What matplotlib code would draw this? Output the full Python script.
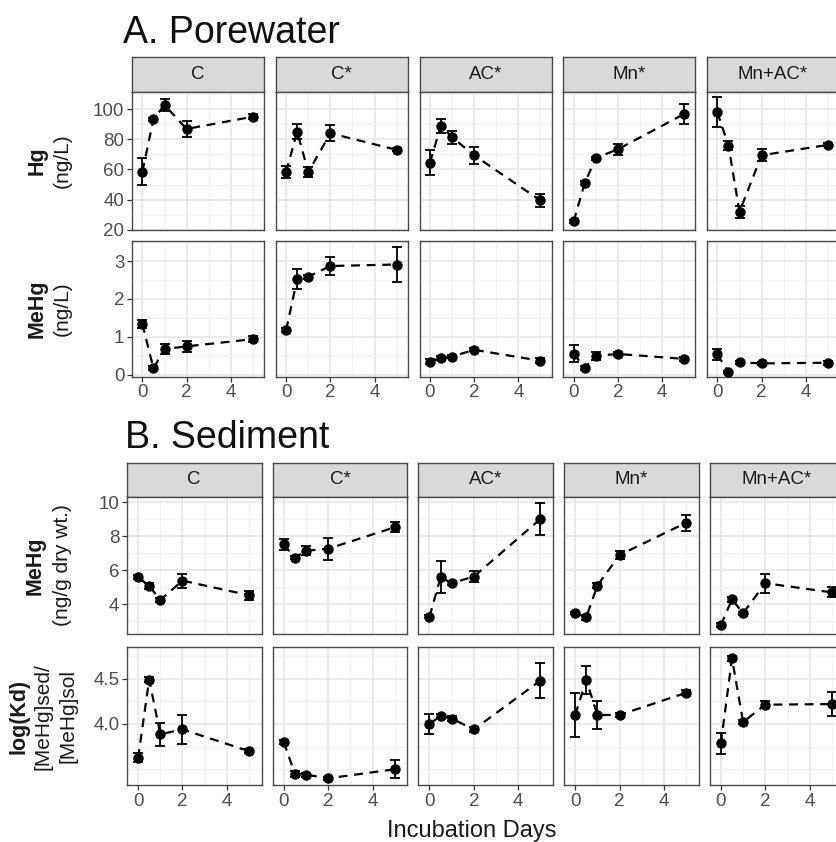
import matplotlib
matplotlib.use("Agg")
import matplotlib.pyplot as plt
from matplotlib.ticker import FixedLocator

plt.rcParams['font.family'] = ['Liberation Sans', 'DejaVu Sans']

# ---------------------------------------------------------------- data
days = [0, 0.5, 1, 2, 5]
treatments = ["C", "C*", "AC*", "Mn*", "Mn+AC*"]

# Porewater total Hg (ng/L), one row per treatment
pw_hg_mean = [
    [58.6, 93.3, 102.8, 86.9, 95.0],
    [58.4, 85.1, 58.2, 84.0, 73.0],
    [64.6, 89.0, 81.4, 69.4, 39.4],
    [25.5, 50.9, 67.5, 73.4, 96.8],
    [97.9, 75.8, 31.9, 69.4, 76.3],
]
pw_hg_err = [
    [9.2, 1.0, 3.7, 5.5, 1.5],
    [4.0, 5.0, 3.5, 5.3, 1.0],
    [8.5, 4.5, 4.4, 5.7, 4.6],
    [1.0, 1.5, 1.0, 3.7, 6.5],
    [9.9, 3.0, 4.0, 4.0, 1.0],
]

# Porewater MeHg (ng/L)
pw_mehg_mean = [
    [1.34, 0.17, 0.68, 0.75, 0.94],
    [1.18, 2.53, 2.59, 2.87, 2.91],
    [0.35, 0.44, 0.48, 0.66, 0.37],
    [0.56, 0.18, 0.50, 0.55, 0.42],
    [0.54, 0.07, 0.33, 0.30, 0.32],
]
pw_mehg_err = [
    [0.10, 0.05, 0.14, 0.15, 0.08],
    [0.06, 0.26, 0.05, 0.25, 0.47],
    [0.06, 0.05, 0.04, 0.04, 0.07],
    [0.23, 0.05, 0.10, 0.05, 0.05],
    [0.15, 0.03, 0.04, 0.04, 0.05],
]

# Sediment MeHg (ng/g dry wt.)
sed_mehg_mean = [
    [5.59, 5.08, 4.25, 5.39, 4.53],
    [7.53, 6.74, 7.15, 7.27, 8.53],
    [3.27, 5.59, 5.24, 5.63, 9.02],
    [3.47, 3.24, 5.10, 6.90, 8.80],
    [2.78, 4.29, 3.47, 5.24, 4.70],
]
sed_mehg_err = [
    [0.12, 0.20, 0.10, 0.42, 0.25],
    [0.33, 0.10, 0.27, 0.65, 0.30],
    [0.10, 0.95, 0.10, 0.33, 0.95],
    [0.05, 0.15, 0.15, 0.25, 0.48],
    [0.10, 0.15, 0.10, 0.55, 0.30],
]

# log(Kd) = log([MeHg]sed / [MeHg]sol)
log_kd_mean = [
    [3.625, 4.49, 3.886, 3.94, 3.70],
    [3.80, 3.45, 3.44, 3.40, 3.50],
    [4.00, 4.09, 4.06, 3.94, 4.48],
    [4.10, 4.486, 4.10, 4.10, 4.345],
    [3.787, 4.725, 4.022, 4.213, 4.22],
]
log_kd_err = [
    [0.05, 0.03, 0.13, 0.16, 0.02],
    [0.02, 0.03, 0.02, 0.02, 0.10],
    [0.115, 0.02, 0.03, 0.03, 0.19],
    [0.24, 0.15, 0.155, 0.02, 0.03],
    [0.117, 0.03, 0.02, 0.04, 0.13],
]

# ---------------------------------------------------------------- layout
W, H = 836, 842
fig = plt.figure(figsize=(W / 100, H / 100), dpi=100)
fig.patch.set_facecolor("white")

BORDER = "#4a4a4a"
GRID_MAJ = "#E6E6E6"
GRID_MIN = "#F0F0F0"
TICK_TXT = "#4D4D4D"


def px_axes(x0, y0, w, h):
    return fig.add_axes([x0 / W, 1 - (y0 + h) / H, w / W, h / H])


def strip(x0, y0, w, h, label):
    ax = px_axes(x0, y0, w, h)
    ax.set_facecolor("#D9D9D9")
    ax.set_xticks([])
    ax.set_yticks([])
    for s in ax.spines.values():
        s.set_color(BORDER)
        s.set_linewidth(1.0)
    ax.text(0.5, 0.5, label, transform=ax.transAxes, ha="center",
            va="center", fontsize=13.5, color="#1A1A1A")


def panel(x0, y0, w, h, mean, err, xlim, ylim, ymaj, ymin,
          show_y, show_x):
    ax = px_axes(x0, y0, w, h)
    ax.set_facecolor("white")
    ax.set_xlim(*xlim)
    ax.set_ylim(*ylim)
    ax.set_xticks([0, 2, 4])
    ax.xaxis.set_minor_locator(FixedLocator([1, 3, 5]))
    ax.set_yticks(ymaj)
    ax.yaxis.set_minor_locator(FixedLocator(ymin))
    ax.set_axisbelow(True)
    ax.grid(which="major", color=GRID_MAJ, lw=1.1)
    ax.grid(which="minor", color=GRID_MIN, lw=0.6)
    ax.tick_params(which="minor", length=0)
    ax.tick_params(which="major", length=3.5, width=0.9, color="#333333",
                   labelcolor=TICK_TXT, labelsize=13.5, pad=2)
    if not show_y:
        ax.tick_params(axis="y", left=False, labelleft=False)
    if not show_x:
        ax.tick_params(axis="x", bottom=False, labelbottom=False)
    for s in ax.spines.values():
        s.set_color(BORDER)
        s.set_linewidth(1.0)

    ax.plot(days, mean, color="black", lw=1.6, dashes=(4, 3), zorder=2)
    ax.errorbar(days, mean, yerr=err, fmt="none", ecolor="black",
                elinewidth=1.3, capsize=3.6, capthick=1.3, zorder=3)
    ax.plot(days, mean, "o", color="black", ms=6.5, zorder=4)
    return ax


def ylabel(lines, xs, yc):
    for i, (txt, x) in enumerate(zip(lines, xs)):
        fig.text(x / W, 1 - yc / H, txt, rotation=90, ha="center",
                 va="center", fontsize=15.5 if i == 0 else 15,
                 fontweight="bold" if i == 0 else "normal",
                 color="#1A1A1A")


# ---- A. Porewater
a_lefts = [132, 275.75, 419.5, 563.25, 707]
a_w = 132
a_xlim = (-0.47, 5.5)
fig.text(123 / W, 1 - 43.3 / H, "A. Porewater", fontsize=27,
         ha="left", va="baseline", color="#111111")
for j, name in enumerate(treatments):
    x0 = a_lefts[j]
    strip(x0, 57, a_w, 34.7, name)
    panel(x0, 91.7, a_w, 138.3, pw_hg_mean[j], pw_hg_err[j], a_xlim,
          (19.8, 111.6), [20, 40, 60, 80, 100], [30, 50, 70, 90, 110],
          show_y=(j == 0), show_x=False)
    panel(x0, 241, a_w, 135.7, pw_mehg_mean[j], pw_mehg_err[j], a_xlim,
          (-0.05, 3.53), [0, 1, 2, 3], [0.5, 1.5, 2.5, 3.5],
          show_y=(j == 0), show_x=True)

ylabel(["Hg", "(ng/L)"], [37, 62], 160.9)
ylabel(["MeHg", "(ng/L)"], [37, 62], 308.9)

# ---- B. Sediment
b_lefts = [127, 272.7, 418.4, 564.1, 709.8]
b_w = 134.5
b_xlim = (-0.5, 5.56)
fig.text(125 / W, 1 - 448 / H, "B. Sediment", fontsize=27,
         ha="left", va="baseline", color="#111111")
for j, name in enumerate(treatments):
    x0 = b_lefts[j]
    strip(x0, 463.3, b_w, 33.4, name)
    panel(x0, 496.7, b_w, 137.3, sed_mehg_mean[j], sed_mehg_err[j], b_xlim,
          (2.25, 10.33), [4, 6, 8, 10], [3, 5, 7, 9],
          show_y=(j == 0), show_x=False)
    panel(x0, 647.3, b_w, 138, log_kd_mean[j], log_kd_err[j], b_xlim,
          (3.323, 4.847), [4.0, 4.5], [3.5, 3.75, 4.25, 4.75],
          show_y=(j == 0), show_x=True)

ylabel(["MeHg", "(ng/g dry wt.)"], [35, 62], 565.4)
ylabel(["log(Kd)", "[MeHg]sed/", "[MeHg]sol"], [19, 43, 68], 716.3)

fig.text(472 / W, 1 - 831 / H, "Incubation Days", fontsize=17,
         ha="center", va="center", color="#1A1A1A")

fig.savefig("out.png", dpi=100, facecolor="white")
